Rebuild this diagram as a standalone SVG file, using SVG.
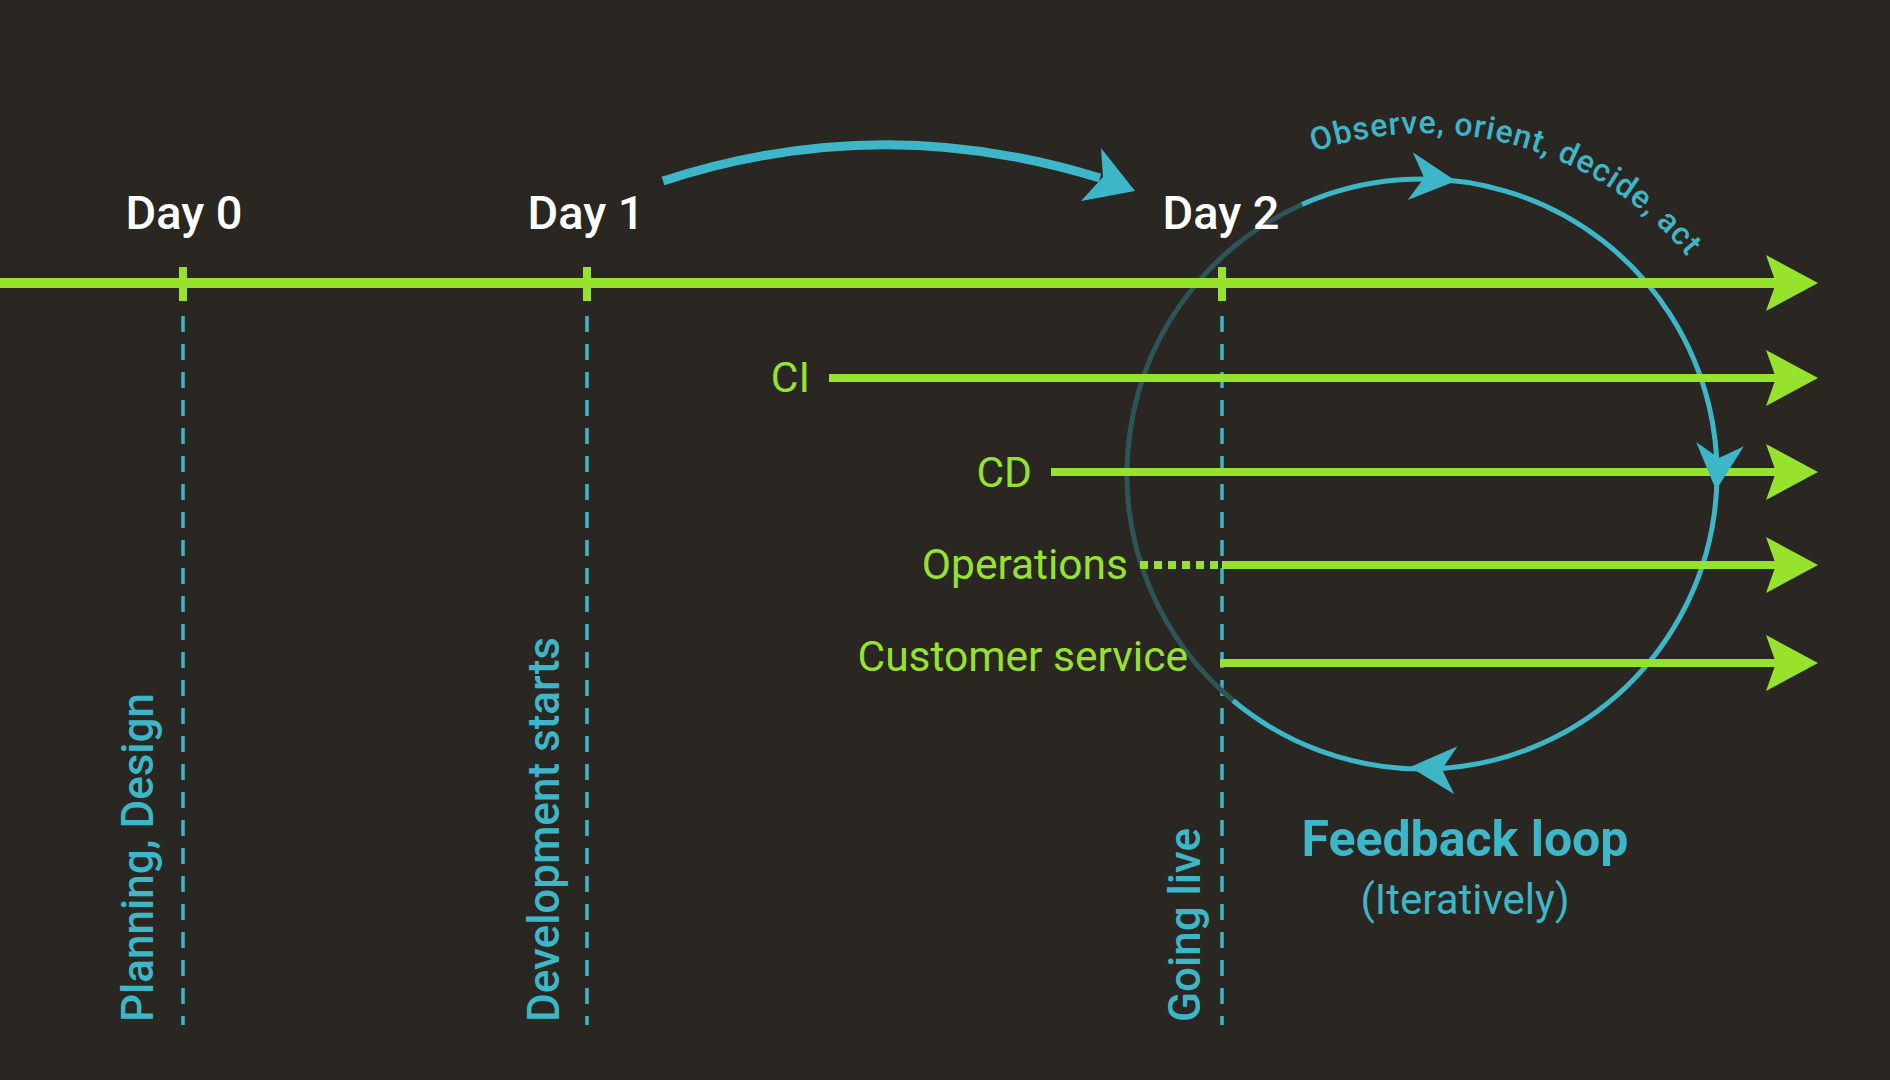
<svg xmlns="http://www.w3.org/2000/svg" width="1890" height="1080" viewBox="0 0 1890 1080">
  <style>
    .green { stroke: #97e22c; fill: none; }
    .gtxt { fill: #97e22c; font-family: Roboto, "Liberation Sans", sans-serif; font-size: 42.5px; }
    .day { fill: #ffffff; font-family: Roboto, "Liberation Sans", sans-serif; font-size: 47px; font-weight: 500; text-anchor: middle; }
    .vlab { fill: #3db6c7; font-family: Roboto, "Liberation Sans", sans-serif; font-size: 44px; font-weight: 500; }
    .dash { stroke: #3db6c7; stroke-width: 3.5; stroke-dasharray: 16 12; fill: none; }
    .cyan { stroke: #3db6c7; fill: none; }
    .cyanfill { fill: #3db6c7; }
  </style>
  <defs>
    <marker id="garrow" markerUnits="userSpaceOnUse" viewBox="0 0 52 56" markerWidth="52" markerHeight="56" refX="14" refY="28" orient="auto">
      <path d="M0,0 L52,28 L0,56 L10,28 z" fill="#97e22c"/>
    </marker>
    <path id="chead" d="M0,0 L-46,-24 L-32,0 L-46,24 z"/>
    <path id="oodaPath" d="M1314.0,152.0 A340,340 0 0 1 1740.0,345.0"/>
  </defs>
  <rect x="0" y="0" width="1890" height="1080" fill="#2a2622"/>

  <g id="connectors">
    <!-- dashed phase lines -->
    <line class="dash" x1="183" y1="316" x2="183" y2="1025"/>
    <line class="dash" x1="587" y1="316" x2="587" y2="1025"/>
    <line class="dash" x1="1222" y1="316" x2="1222" y2="1025"/>

    <!-- feedback circle -->
    <path d="M1233.0,700.5 A295,295 0 0 1 1302.0,204.5" stroke="#2d5558" stroke-width="5" fill="none"/>
    <path class="cyan" stroke-width="5" d="M1302.0,204.5 A295,295 0 1 1 1233.0,700.5"/>

    <!-- main timeline -->
    <line class="green" stroke-width="10" x1="0" y1="283" x2="1780" y2="283" marker-end="url(#garrow)"/>
    <line class="green" stroke-width="8" x1="183" y1="267" x2="183" y2="301"/>
    <line class="green" stroke-width="8" x1="587" y1="267" x2="587" y2="301"/>
    <line class="green" stroke-width="8" x1="1222" y1="267" x2="1222" y2="301"/>

    <!-- branches -->
    <line class="green" stroke-width="8" x1="829" y1="378" x2="1780" y2="378" marker-end="url(#garrow)"/>
    <line class="green" stroke-width="8" x1="1051" y1="472" x2="1780" y2="472" marker-end="url(#garrow)"/>
    <line class="green" stroke-width="8" x1="1140" y1="565" x2="1222" y2="565" stroke-dasharray="8 6"/>
    <line class="green" stroke-width="8" x1="1222" y1="565" x2="1780" y2="565" marker-end="url(#garrow)"/>
    <line class="green" stroke-width="8" x1="1220" y1="663" x2="1780" y2="663" marker-end="url(#garrow)"/>

    <!-- circle arrowheads -->
    <use href="#chead" class="cyanfill" transform="translate(1456,181) rotate(6)"/>
    <use href="#chead" class="cyanfill" transform="translate(1716,490) rotate(95)"/>
    <use href="#chead" class="cyanfill" transform="translate(1410,767) rotate(184)"/>

    <!-- Day1 to Day2 curved arrow -->
    <path class="cyan" stroke-width="9" d="M663,181 Q880,110 1100,178"/>
    <path class="cyanfill" d="M1135,191 L1101,148 L1103,177 L1081,201 z"/>
  </g>

  <g id="day0"><text class="day" x="184" y="229">Day 0</text></g>
  <g id="day1"><text class="day" x="586" y="229">Day 1</text></g>
  <g id="day2"><text class="day" x="1221" y="229">Day 2</text></g>

  <g id="planning"><text class="vlab" transform="translate(153,1022) rotate(-90)">Planning, Design</text></g>
  <g id="development"><text class="vlab" transform="translate(559,1022) rotate(-90)">Development starts</text></g>
  <g id="goinglive"><text class="vlab" transform="translate(1200,1022) rotate(-90)">Going live</text></g>

  <g id="ci"><text class="gtxt" x="810" y="392" text-anchor="end">CI</text></g>
  <g id="cd"><text class="gtxt" x="1032" y="487" text-anchor="end">CD</text></g>
  <g id="operations"><text class="gtxt" x="1128" y="579" text-anchor="end">Operations</text></g>
  <g id="customer"><text class="gtxt" x="1188" y="671" text-anchor="end">Customer service</text></g>

  <g id="ooda">
    <text fill="#3db6c7" font-family="Roboto, 'Liberation Sans', sans-serif" font-size="32" font-weight="500"><textPath href="#oodaPath" textLength="412" lengthAdjust="spacing">Observe, orient, decide, act</textPath></text>
  </g>

  <g id="feedback">
    <text x="1465" y="856" text-anchor="middle" fill="#3db6c7" font-family="Roboto, 'Liberation Sans', sans-serif" font-size="50" font-weight="700">Feedback loop</text>
    <text x="1465" y="914" text-anchor="middle" fill="#3db6c7" font-family="Roboto, 'Liberation Sans', sans-serif" font-size="42">(Iteratively)</text>
  </g>
</svg>
